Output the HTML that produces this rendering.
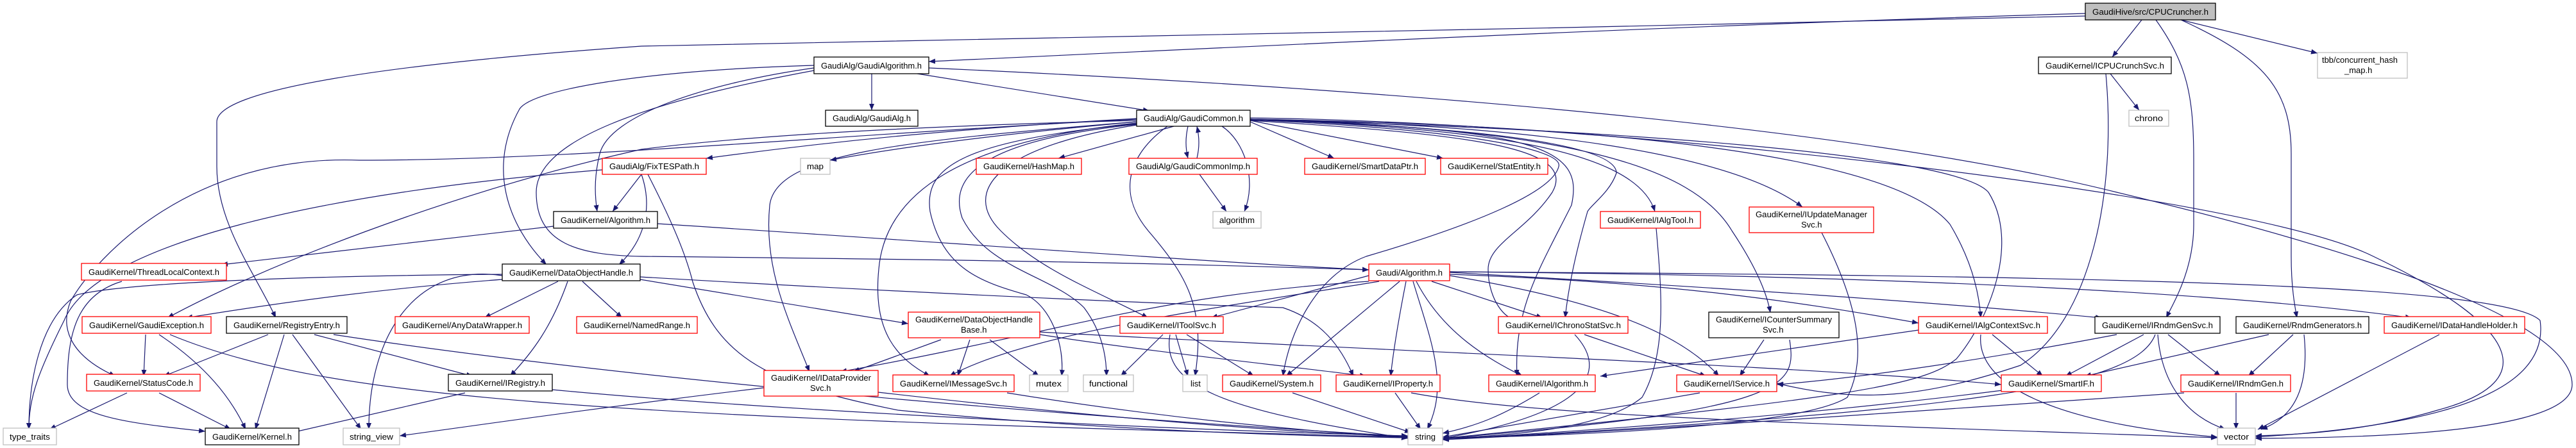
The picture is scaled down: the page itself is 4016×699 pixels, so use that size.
<!DOCTYPE html>
<html><head><meta charset="utf-8"><style>
html,body{margin:0;padding:0;background:#fff;}
svg{display:block;}
text{font-family:"Liberation Sans",sans-serif;font-size:13px;fill:#000;}
</style></head><body>
<svg id="g" width="4016" height="699" viewBox="0 0 4016 699" xmlns="http://www.w3.org/2000/svg">
<defs><marker id="a" viewBox="0 0 10 8" refX="10" refY="4" markerWidth="10" markerHeight="8" markerUnits="userSpaceOnUse" orient="auto"><path d="M0,0 L10,4 L0,8 z" fill="#191970"/></marker></defs>
<g id="edges" fill="none" stroke="#191970" stroke-width="1.2" marker-end="url(#a)">
<path d="M3251,21 C2600,40 1900,75 1448,96"/>
<path d="M3251,25 C2500,45 1400,60 1000,72 C600,100 338,140 338,190 L338,260 C338,350 400,430 430,496"/>
<path d="M3339,31 L3293,89"/>
<path d="M3361,31 C3410,100 3420,150 3420,250 L3420,350 C3420,420 3390,470 3377,496"/>
<path d="M3400,31 C3530,90 3572,140 3572,240 L3572,400 C3572,450 3578,480 3581,496"/>
<path d="M3400,31 L3613,83"/>
<path d="M1359,115 L1359,172"/>
<path d="M1430,115 L1792,173"/>
<path d="M1448,106 C2200,140 2900,200 3300,300 C3800,420 4010,520 4010,600 C4010,680 3650,683 3516,684"/>
<path d="M1269,102 C1000,110 830,140 810,170 C760,260 790,350 852,413"/>
<path d="M1269,106 C1100,130 950,180 935,240 C925,280 928,310 931,330"/>
<path d="M1269,110 C1000,160 836,220 836,300 C836,380 900,398 1000,400 C1500,405 1800,410 2134,421"/>
<path d="M1772,185 C1500,200 1300,220 1101,247"/>
<path d="M1772,190 C1550,210 1400,230 1294,250"/>
<path d="M1830,197 L1650,247"/>
<path d="M1852,197 C1848,215 1848,230 1852,247"/>
<path d="M1866,247 C1870,230 1870,215 1866,197"/>
<path d="M1870,272 L1912,330"/>
<path d="M1905,197 C1940,220 1960,280 1940,330"/>
<path d="M1949,190 L2080,247"/>
<path d="M1949,188 L2250,247"/>
<path d="M1949,186 C2300,200 2550,230 2580,330"/>
<path d="M1949,186 C2400,195 2700,240 2810,323"/>
<path d="M1949,184 C2500,190 3500,300 3700,400 C3950,520 3950,600 3800,640 C3700,670 3600,678 3516,680"/>
<path d="M1949,186 C2500,195 2950,240 3040,350 C3070,400 3085,450 3088,496"/>
<path d="M1772,188 C1300,200 1100,220 1000,233 C700,300 400,420 261,496"/>
<path d="M1772,186 C1300,210 900,250 560,250 C300,240 150,400 110,470 C90,520 120,560 180,587"/>
<path d="M939,265 C500,300 150,380 100,500 C60,580 45,620 45,670"/>
<path d="M1772,190 C1400,220 1210,240 1200,320 C1190,420 1230,500 1262,580"/>
<path d="M1772,192 C1500,220 1380,300 1370,420 C1360,520 1400,560 1450,587"/>
<path d="M1772,193 C1500,220 1440,260 1450,330 C1470,420 1530,440 1600,460 C1640,480 1660,540 1655,587"/>
<path d="M1772,194 C1520,220 1480,280 1500,340 C1540,420 1640,430 1690,480 C1720,520 1725,560 1725,587"/>
<path d="M1772,195 C1550,230 1500,300 1560,360 C1620,420 1700,450 1790,496"/>
<path d="M1820,197 C1760,240 1740,300 1790,360 C1850,430 1880,480 1863,587"/>
<path d="M1949,188 C2300,210 2460,230 2420,300 C2380,360 2320,380 2320,420 C2320,470 2350,500 2360,496"/>
<path d="M1949,187 C2400,200 2470,230 2450,320 C2400,420 2360,480 2365,587"/>
<path d="M1949,186 C2350,200 2520,230 2520,270 C2510,300 2480,320 2475,330 C2455,400 2445,450 2440,496"/>
<path d="M1949,186 C2450,200 2640,260 2700,360 C2740,420 2755,460 2760,488"/>
<path d="M1949,187 C2250,200 2440,230 2430,260 C2420,300 2300,350 2130,400 C2050,430 2010,520 2000,587"/>
<path d="M1949,187 C2500,200 3050,240 3100,300 C3150,380 3100,500 3050,560 C3000,600 2900,620 2249,684"/>
<path d="M863,353 L345,413"/>
<path d="M1025,349 C1500,380 1900,410 2134,421"/>
<path d="M1000,272 L955,330"/>
<path d="M1010,272 C1050,350 1070,400 1080,440 C1120,560 1200,600 1400,640 C1700,670 2000,680 2195,683"/>
<path d="M1000,272 C1020,330 1000,380 965,413"/>
<path d="M190,439 C120,460 105,520 105,600 C105,650 200,660 320,673"/>
<path d="M870,439 L755,496"/>
<path d="M908,439 L970,496"/>
<path d="M885,439 C860,510 830,550 795,587"/>
<path d="M783,436 C600,450 450,470 290,496"/>
<path d="M783,428 C500,430 200,440 120,460 C60,500 45,600 45,670"/>
<path d="M998,436 L1416,505"/>
<path d="M783,430 C650,410 575,520 575,670"/>
<path d="M998,432 C1300,450 1700,470 2000,480 C2060,500 2090,540 2110,587"/>
<path d="M418,522 L255,587"/>
<path d="M443,522 L398,670"/>
<path d="M456,522 L563,670"/>
<path d="M490,522 L737,587"/>
<path d="M520,522 C900,580 1500,640 2195,681"/>
<path d="M227,522 L224,587"/>
<path d="M248,522 C320,570 360,620 383,670"/>
<path d="M265,522 C500,620 900,650 2195,682"/>
<path d="M198,613 L77,670"/>
<path d="M248,613 L360,670"/>
<path d="M725,613 L455,675"/>
<path d="M861,608 C1200,640 1800,670 2195,680"/>
<path d="M1467,530 L1330,580"/>
<path d="M1512,530 L1493,587"/>
<path d="M1543,530 L1620,587"/>
<path d="M1621,518 C2200,550 2800,570 3120,600"/>
<path d="M1621,522 C1800,550 2000,570 2130,587"/>
<path d="M1191,605 C900,640 700,670 623,680"/>
<path d="M1369,612 C1700,650 2000,675 2195,681"/>
<path d="M1813,522 L1747,587"/>
<path d="M1833,522 L1852,587"/>
<path d="M1850,522 L1955,587"/>
<path d="M1824,522 C1810,600 1900,640 2195,684"/>
<path d="M2134,430 L1888,496"/>
<path d="M2134,439 C1800,460 1650,520 1310,580"/>
<path d="M2150,439 C1900,480 1600,520 1480,587"/>
<path d="M2182,439 L2005,587"/>
<path d="M2192,439 C2180,500 2172,550 2168,587"/>
<path d="M2203,439 C2230,530 2260,600 2225,670"/>
<path d="M2208,439 C2250,520 2320,560 2374,587"/>
<path d="M2232,439 L2405,496"/>
<path d="M2260,430 C2500,470 2620,520 2680,587"/>
<path d="M2260,428 C2600,440 2800,470 2991,504"/>
<path d="M2260,425 C2700,450 3000,470 3277,496"/>
<path d="M2260,424 C3000,430 3500,460 3760,496"/>
<path d="M2260,424 C3200,430 3900,440 3960,500 C3980,640 3700,670 3516,682"/>
<path d="M2470,522 L2660,587"/>
<path d="M2455,522 C2500,570 2500,640 2249,684"/>
<path d="M2750,530 L2712,587"/>
<path d="M2790,530 C2800,600 2800,640 2249,684"/>
<path d="M3106,522 L3185,587"/>
<path d="M2991,515 L2495,587"/>
<path d="M3088,522 C3080,600 3200,660 3457,682"/>
<path d="M3290,115 L3335,172"/>
<path d="M3283,115 C3300,300 3260,500 3150,570 C3000,620 2900,630 2770,598"/>
<path d="M3342,522 L3220,587"/>
<path d="M3380,522 L3462,587"/>
<path d="M3300,522 C3100,560 2900,590 2770,600"/>
<path d="M3360,522 C3330,600 3100,640 2249,686"/>
<path d="M3364,522 C3370,600 3410,650 3470,670"/>
<path d="M3537,522 L3250,587"/>
<path d="M3575,522 L3505,587"/>
<path d="M3592,522 C3600,600 3580,650 3525,670"/>
<path d="M3486,613 L3486,670"/>
<path d="M3405,613 C3000,640 2600,670 2249,686"/>
<path d="M3803,522 L3520,670"/>
<path d="M3130,608 C2800,650 2500,670 2249,686"/>
<path d="M2650,613 L2249,682"/>
<path d="M2400,613 C2340,650 2300,665 2249,676"/>
<path d="M2175,613 L2215,670"/>
<path d="M2015,613 L2200,675"/>
<path d="M2200,613 C2400,650 2800,660 3457,683"/>
<path d="M1570,613 C1800,650 2000,670 2195,683"/>
<path d="M2582,356 C2590,450 2600,550 2560,620 C2500,670 2350,680 2249,684"/>
<path d="M2840,363 C2900,480 2910,560 2880,620 C2800,670 2400,680 2249,684"/>
</g>
<g stroke-width="1.3">
<rect x="3251" y="5" width="203" height="26" fill="#bfbfbf" stroke="#000"/><text x="3262" y="23" textLength="181" lengthAdjust="spacingAndGlyphs">GaudiHive/src/CPUCruncher.h</text>
<rect x="1269" y="89" width="179" height="26" fill="#fff" stroke="#000"/><text x="1280" y="107" textLength="157" lengthAdjust="spacingAndGlyphs">GaudiAlg/GaudiAlgorithm.h</text>
<rect x="3178" y="89" width="207" height="26" fill="#fff" stroke="#000"/><text x="3189" y="107" textLength="185" lengthAdjust="spacingAndGlyphs">GaudiKernel/ICPUCrunchSvc.h</text>
<rect x="3613" y="82" width="140" height="40" fill="#fff" stroke="#bfbfbf"/><text x="3620" y="98" textLength="118" lengthAdjust="spacingAndGlyphs">tbb/concurrent_hash</text><text x="3655" y="114">_map.h</text>
<rect x="1287" y="172" width="144" height="25" fill="#fff" stroke="#000"/><text x="1298" y="189" textLength="122" lengthAdjust="spacingAndGlyphs">GaudiAlg/GaudiAlg.h</text>
<rect x="1772" y="172" width="177" height="25" fill="#fff" stroke="#000"/><text x="1783" y="189" textLength="155" lengthAdjust="spacingAndGlyphs">GaudiAlg/GaudiCommon.h</text>
<rect x="3319" y="172" width="62" height="25" fill="#fff" stroke="#bfbfbf"/><text x="3328" y="189" textLength="44" lengthAdjust="spacingAndGlyphs">chrono</text>
<rect x="939" y="247" width="162" height="25" fill="#fff" stroke="#ff0000"/><text x="950" y="264" textLength="140" lengthAdjust="spacingAndGlyphs">GaudiAlg/FixTESPath.h</text>
<rect x="1248" y="247" width="46" height="25" fill="#fff" stroke="#bfbfbf"/><text x="1258" y="264" textLength="26" lengthAdjust="spacingAndGlyphs">map</text>
<rect x="1522" y="247" width="164" height="25" fill="#fff" stroke="#ff0000"/><text x="1533" y="264" textLength="142" lengthAdjust="spacingAndGlyphs">GaudiKernel/HashMap.h</text>
<rect x="1760" y="247" width="200" height="25" fill="#fff" stroke="#ff0000"/><text x="1771" y="264" textLength="178" lengthAdjust="spacingAndGlyphs">GaudiAlg/GaudiCommonImp.h</text>
<rect x="2034" y="247" width="188" height="25" fill="#fff" stroke="#ff0000"/><text x="2045" y="264" textLength="166" lengthAdjust="spacingAndGlyphs">GaudiKernel/SmartDataPtr.h</text>
<rect x="2246" y="247" width="167" height="25" fill="#fff" stroke="#ff0000"/><text x="2257" y="264" textLength="145" lengthAdjust="spacingAndGlyphs">GaudiKernel/StatEntity.h</text>
<rect x="863" y="330" width="162" height="26" fill="#fff" stroke="#000"/><text x="874" y="348" textLength="140" lengthAdjust="spacingAndGlyphs">GaudiKernel/Algorithm.h</text>
<rect x="1891" y="330" width="75" height="26" fill="#fff" stroke="#bfbfbf"/><text x="1901" y="348" textLength="55" lengthAdjust="spacingAndGlyphs">algorithm</text>
<rect x="2495" y="330" width="156" height="26" fill="#fff" stroke="#ff0000"/><text x="2506" y="348" textLength="134" lengthAdjust="spacingAndGlyphs">GaudiKernel/IAlgTool.h</text>
<rect x="2727" y="323" width="194" height="40" fill="#fff" stroke="#ff0000"/><text x="2737" y="339" textLength="174" lengthAdjust="spacingAndGlyphs">GaudiKernel/IUpdateManager</text><text x="2808" y="355">Svc.h</text>
<rect x="127" y="411" width="226" height="26" fill="#fff" stroke="#ff0000"/><text x="138" y="429" textLength="204" lengthAdjust="spacingAndGlyphs">GaudiKernel/ThreadLocalContext.h</text>
<rect x="783" y="412" width="215" height="26" fill="#fff" stroke="#000"/><text x="794" y="430" textLength="193" lengthAdjust="spacingAndGlyphs">GaudiKernel/DataObjectHandle.h</text>
<rect x="2134" y="412" width="126" height="26" fill="#fff" stroke="#ff0000"/><text x="2145" y="430" textLength="104" lengthAdjust="spacingAndGlyphs">Gaudi/Algorithm.h</text>
<rect x="128" y="494" width="201" height="26" fill="#fff" stroke="#ff0000"/><text x="139" y="512" textLength="179" lengthAdjust="spacingAndGlyphs">GaudiKernel/GaudiException.h</text>
<rect x="353" y="494" width="188" height="26" fill="#fff" stroke="#000"/><text x="364" y="512" textLength="166" lengthAdjust="spacingAndGlyphs">GaudiKernel/RegistryEntry.h</text>
<rect x="616" y="494" width="209" height="26" fill="#fff" stroke="#ff0000"/><text x="627" y="512" textLength="187" lengthAdjust="spacingAndGlyphs">GaudiKernel/AnyDataWrapper.h</text>
<rect x="899" y="494" width="188" height="26" fill="#fff" stroke="#ff0000"/><text x="910" y="512" textLength="166" lengthAdjust="spacingAndGlyphs">GaudiKernel/NamedRange.h</text>
<rect x="1416" y="487" width="205" height="40" fill="#fff" stroke="#ff0000"/><text x="1427" y="503" textLength="183" lengthAdjust="spacingAndGlyphs">GaudiKernel/DataObjectHandle</text><text x="1498" y="519">Base.h</text>
<rect x="1746" y="494" width="161" height="26" fill="#fff" stroke="#ff0000"/><text x="1757" y="512" textLength="139" lengthAdjust="spacingAndGlyphs">GaudiKernel/IToolSvc.h</text>
<rect x="2336" y="494" width="202" height="26" fill="#fff" stroke="#ff0000"/><text x="2347" y="512" textLength="180" lengthAdjust="spacingAndGlyphs">GaudiKernel/IChronoStatSvc.h</text>
<rect x="2664" y="487" width="203" height="40" fill="#fff" stroke="#000"/><text x="2675" y="503" textLength="181" lengthAdjust="spacingAndGlyphs">GaudiKernel/ICounterSummary</text><text x="2748" y="519">Svc.h</text>
<rect x="2991" y="494" width="201" height="26" fill="#fff" stroke="#ff0000"/><text x="3002" y="512" textLength="179" lengthAdjust="spacingAndGlyphs">GaudiKernel/IAlgContextSvc.h</text>
<rect x="3266" y="494" width="195" height="26" fill="#fff" stroke="#000"/><text x="3277" y="512" textLength="173" lengthAdjust="spacingAndGlyphs">GaudiKernel/IRndmGenSvc.h</text>
<rect x="3486" y="494" width="207" height="26" fill="#fff" stroke="#000"/><text x="3497" y="512" textLength="185" lengthAdjust="spacingAndGlyphs">GaudiKernel/RndmGenerators.h</text>
<rect x="3717" y="494" width="219" height="26" fill="#fff" stroke="#ff0000"/><text x="3728" y="512" textLength="197" lengthAdjust="spacingAndGlyphs">GaudiKernel/IDataHandleHolder.h</text>
<rect x="135" y="584" width="177" height="26" fill="#fff" stroke="#ff0000"/><text x="146" y="602" textLength="155" lengthAdjust="spacingAndGlyphs">GaudiKernel/StatusCode.h</text>
<rect x="699" y="584" width="162" height="26" fill="#fff" stroke="#000"/><text x="710" y="602" textLength="140" lengthAdjust="spacingAndGlyphs">GaudiKernel/IRegistry.h</text>
<rect x="1191" y="578" width="178" height="40" fill="#fff" stroke="#ff0000"/><text x="1202" y="594" textLength="156" lengthAdjust="spacingAndGlyphs">GaudiKernel/IDataProvider</text><text x="1263" y="610">Svc.h</text>
<rect x="1392" y="585" width="189" height="26" fill="#fff" stroke="#ff0000"/><text x="1403" y="603" textLength="167" lengthAdjust="spacingAndGlyphs">GaudiKernel/IMessageSvc.h</text>
<rect x="1605" y="585" width="60" height="26" fill="#fff" stroke="#bfbfbf"/><text x="1615" y="603" textLength="40" lengthAdjust="spacingAndGlyphs">mutex</text>
<rect x="1689" y="585" width="78" height="26" fill="#fff" stroke="#bfbfbf"/><text x="1698" y="603" textLength="60" lengthAdjust="spacingAndGlyphs">functional</text>
<rect x="1844" y="585" width="38" height="26" fill="#fff" stroke="#bfbfbf"/><text x="1856" y="603">list</text>
<rect x="1906" y="585" width="153" height="26" fill="#fff" stroke="#ff0000"/><text x="1917" y="603" textLength="131" lengthAdjust="spacingAndGlyphs">GaudiKernel/System.h</text>
<rect x="2083" y="585" width="162" height="26" fill="#fff" stroke="#ff0000"/><text x="2094" y="603" textLength="140" lengthAdjust="spacingAndGlyphs">GaudiKernel/IProperty.h</text>
<rect x="2321" y="585" width="166" height="26" fill="#fff" stroke="#ff0000"/><text x="2332" y="603" textLength="144" lengthAdjust="spacingAndGlyphs">GaudiKernel/IAlgorithm.h</text>
<rect x="2614" y="585" width="156" height="26" fill="#fff" stroke="#ff0000"/><text x="2625" y="603" textLength="134" lengthAdjust="spacingAndGlyphs">GaudiKernel/IService.h</text>
<rect x="3120" y="585" width="156" height="26" fill="#fff" stroke="#ff0000"/><text x="3131" y="603" textLength="134" lengthAdjust="spacingAndGlyphs">GaudiKernel/SmartIF.h</text>
<rect x="3400" y="585" width="171" height="26" fill="#fff" stroke="#ff0000"/><text x="3411" y="603" textLength="149" lengthAdjust="spacingAndGlyphs">GaudiKernel/IRndmGen.h</text>
<rect x="5" y="668" width="83" height="26" fill="#fff" stroke="#bfbfbf"/><text x="15" y="686" textLength="63" lengthAdjust="spacingAndGlyphs">type_traits</text>
<rect x="320" y="668" width="146" height="26" fill="#fff" stroke="#000"/><text x="331" y="686" textLength="124" lengthAdjust="spacingAndGlyphs">GaudiKernel/Kernel.h</text>
<rect x="535" y="668" width="88" height="26" fill="#fff" stroke="#bfbfbf"/><text x="545" y="686" textLength="68" lengthAdjust="spacingAndGlyphs">string_view</text>
<rect x="2195" y="668" width="54" height="26" fill="#fff" stroke="#bfbfbf"/><text x="2206" y="686" textLength="32" lengthAdjust="spacingAndGlyphs">string</text>
<rect x="3457" y="668" width="59" height="26" fill="#fff" stroke="#bfbfbf"/><text x="3467" y="686" textLength="39" lengthAdjust="spacingAndGlyphs">vector</text>
</g>
</svg>
</body></html>
